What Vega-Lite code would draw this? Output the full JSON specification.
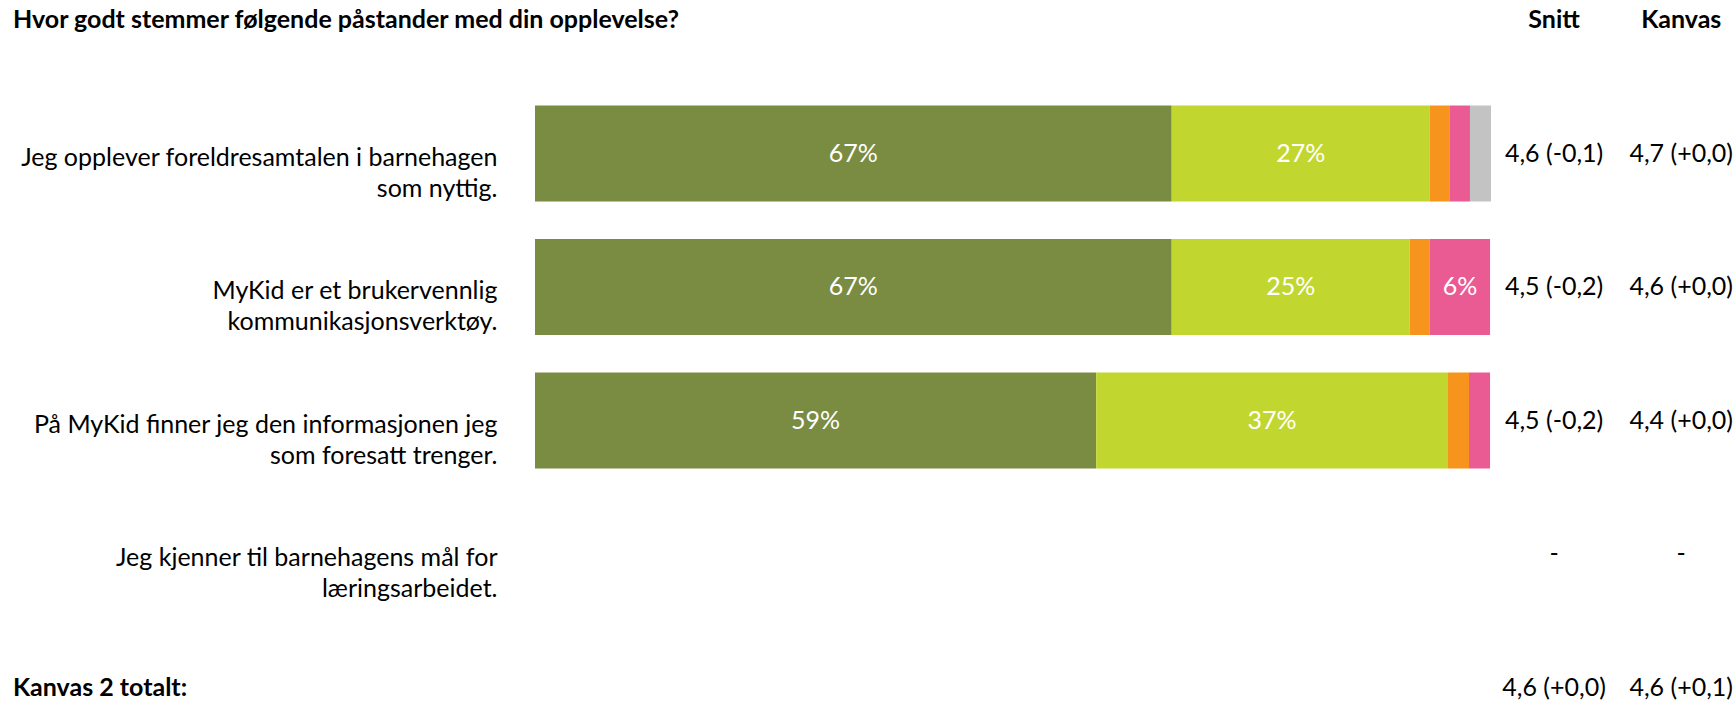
{
  "$schema": "https://vega.github.io/schema/vega-lite/v6.json",
  "width": 956,
  "height": 701,
  "autosize": {"type": "none"},
  "padding": {"left": 535, "right": 244, "top": 0, "bottom": 0},
  "background": "white",
  "config": {"view": {"stroke": null}, "font": "Lato", "text": {"font": "Lato"}},
  "datasets": {
    "bars": [
      {"q": "Jeg opplever foreldresamtalen i barnehagen|som nyttig.", "cat": "Helt enig", "rank": 1, "pct": 66.6, "lbl": "67%"},
      {"q": "Jeg opplever foreldresamtalen i barnehagen|som nyttig.", "cat": "Litt enig", "rank": 2, "pct": 27.0, "lbl": "27%"},
      {"q": "Jeg opplever foreldresamtalen i barnehagen|som nyttig.", "cat": "Verken enig eller uenig", "rank": 3, "pct": 2.1, "lbl": "2%"},
      {"q": "Jeg opplever foreldresamtalen i barnehagen|som nyttig.", "cat": "Uenig", "rank": 4, "pct": 2.1, "lbl": "2%"},
      {"q": "Jeg opplever foreldresamtalen i barnehagen|som nyttig.", "cat": "Vet ikke", "rank": 5, "pct": 2.2, "lbl": "2%"},
      {"q": "MyKid er et brukervennlig|kommunikasjonsverktøy.", "cat": "Helt enig", "rank": 1, "pct": 66.6, "lbl": "67%"},
      {"q": "MyKid er et brukervennlig|kommunikasjonsverktøy.", "cat": "Litt enig", "rank": 2, "pct": 24.9, "lbl": "25%"},
      {"q": "MyKid er et brukervennlig|kommunikasjonsverktøy.", "cat": "Verken enig eller uenig", "rank": 3, "pct": 2.1, "lbl": "2%"},
      {"q": "MyKid er et brukervennlig|kommunikasjonsverktøy.", "cat": "Uenig", "rank": 4, "pct": 6.3, "lbl": "6%"},
      {"q": "På MyKid finner jeg den informasjonen jeg|som foresatt trenger.", "cat": "Helt enig", "rank": 1, "pct": 58.7, "lbl": "59%"},
      {"q": "På MyKid finner jeg den informasjonen jeg|som foresatt trenger.", "cat": "Litt enig", "rank": 2, "pct": 36.8, "lbl": "37%"},
      {"q": "På MyKid finner jeg den informasjonen jeg|som foresatt trenger.", "cat": "Verken enig eller uenig", "rank": 3, "pct": 2.2, "lbl": "2%"},
      {"q": "På MyKid finner jeg den informasjonen jeg|som foresatt trenger.", "cat": "Uenig", "rank": 4, "pct": 2.2, "lbl": "2%"}
    ],
    "rows": [
      {"q": "header", "kind": "header", "left": "Hvor godt stemmer følgende påstander med din opplevelse?", "snitt": "Snitt", "kanvas": "Kanvas"},
      {"q": "Jeg opplever foreldresamtalen i barnehagen|som nyttig.", "kind": "item", "left": "", "snitt": "4,6 (-0,1)", "kanvas": "4,7 (+0,0)"},
      {"q": "MyKid er et brukervennlig|kommunikasjonsverktøy.", "kind": "item", "left": "", "snitt": "4,5 (-0,2)", "kanvas": "4,6 (+0,0)"},
      {"q": "På MyKid finner jeg den informasjonen jeg|som foresatt trenger.", "kind": "item", "left": "", "snitt": "4,5 (-0,2)", "kanvas": "4,4 (+0,0)"},
      {"q": "Jeg kjenner til barnehagens mål for|læringsarbeidet.", "kind": "item", "left": "", "snitt": "-", "kanvas": "-"},
      {"q": "Kanvas 2 totalt:", "kind": "total", "left": "Kanvas 2 totalt:", "snitt": "4,6 (+0,0)", "kanvas": "4,6 (+0,1)"}
    ]
  },
  "encoding": {
    "y": {
      "field": "q",
      "type": "nominal",
      "sort": null,
      "scale": {
        "type": "band",
        "domain": [
          "header",
          "Jeg opplever foreldresamtalen i barnehagen|som nyttig.",
          "MyKid er et brukervennlig|kommunikasjonsverktøy.",
          "På MyKid finner jeg den informasjonen jeg|som foresatt trenger.",
          "Jeg kjenner til barnehagens mål for|læringsarbeidet.",
          "Kanvas 2 totalt:"
        ],
        "range": [-46.75, 754.25],
        "paddingInner": 0.281,
        "paddingOuter": 0.1405
      },
      "axis": {
        "orient": "left",
        "title": null,
        "domain": false,
        "ticks": false,
        "grid": false,
        "labelPadding": 38,
        "labelFont": "Lato",
        "labelFontSize": 25,
        "labelColor": "#000000",
        "labelAlign": "right",
        "labelBaseline": "middle",
        "labelLineHeight": 31,
        "labelLimit": 700,
        "labelOverlap": false,
        "labelOffset": 4,
        "labelExpr": "indexof(datum.value, '|') >= 0 ? split(datum.value, '|') : ''"
      }
    }
  },
  "layer": [
    {
      "data": {"name": "bars"},
      "mark": {"type": "bar"},
      "encoding": {
        "x": {"field": "pct", "type": "quantitative", "stack": "zero", "scale": {"domain": [0, 100], "nice": false, "zero": true}, "axis": null},
        "color": {
          "field": "cat",
          "type": "nominal",
          "scale": {
            "domain": ["Helt enig", "Litt enig", "Verken enig eller uenig", "Uenig", "Vet ikke"],
            "range": ["#7A8C42", "#C1D72F", "#F7941E", "#EA5A93", "#C4C3C4"]
          },
          "legend": null
        },
        "order": {"field": "rank", "type": "quantitative"}
      }
    },
    {
      "data": {"name": "bars"},
      "mark": {"type": "text", "color": "white", "fontSize": 25, "font": "Lato", "align": "center", "baseline": "middle"},
      "encoding": {
        "x": {"field": "pct", "type": "quantitative", "stack": "zero", "bandPosition": 0.5},
        "order": {"field": "rank", "type": "quantitative"},
        "detail": {"field": "cat"},
        "text": {"condition": {"test": "datum.pct >= 5", "field": "lbl"}, "value": ""}
      }
    },
    {
      "data": {"name": "rows"},
      "transform": [{"filter": "datum.kind != 'header'"}],
      "mark": {"type": "text", "fontSize": 25, "font": "Lato", "align": "center", "baseline": "middle", "color": "#000000"},
      "encoding": {"x": {"datum": 106.6}, "text": {"field": "snitt"}}
    },
    {
      "data": {"name": "rows"},
      "transform": [{"filter": "datum.kind != 'header'"}],
      "mark": {"type": "text", "fontSize": 25, "font": "Lato", "align": "center", "baseline": "middle", "color": "#000000"},
      "encoding": {"x": {"datum": 119.9}, "text": {"field": "kanvas"}}
    },
    {
      "data": {"name": "rows"},
      "transform": [{"filter": "datum.kind == 'header'"}],
      "mark": {"type": "text", "fontSize": 25, "font": "Lato", "fontWeight": "bold", "align": "center", "baseline": "middle", "color": "#000000"},
      "encoding": {"x": {"datum": 106.6}, "text": {"field": "snitt"}}
    },
    {
      "data": {"name": "rows"},
      "transform": [{"filter": "datum.kind == 'header'"}],
      "mark": {"type": "text", "fontSize": 25, "font": "Lato", "fontWeight": "bold", "align": "center", "baseline": "middle", "color": "#000000"},
      "encoding": {"x": {"datum": 119.9}, "text": {"field": "kanvas"}}
    },
    {
      "data": {"name": "rows"},
      "transform": [{"filter": "datum.kind != 'item'"}],
      "mark": {"type": "text", "fontSize": 25, "font": "Lato", "fontWeight": "bold", "align": "left", "baseline": "middle", "color": "#000000"},
      "encoding": {"x": {"datum": -54.6}, "text": {"field": "left"}}
    }
  ]
}
